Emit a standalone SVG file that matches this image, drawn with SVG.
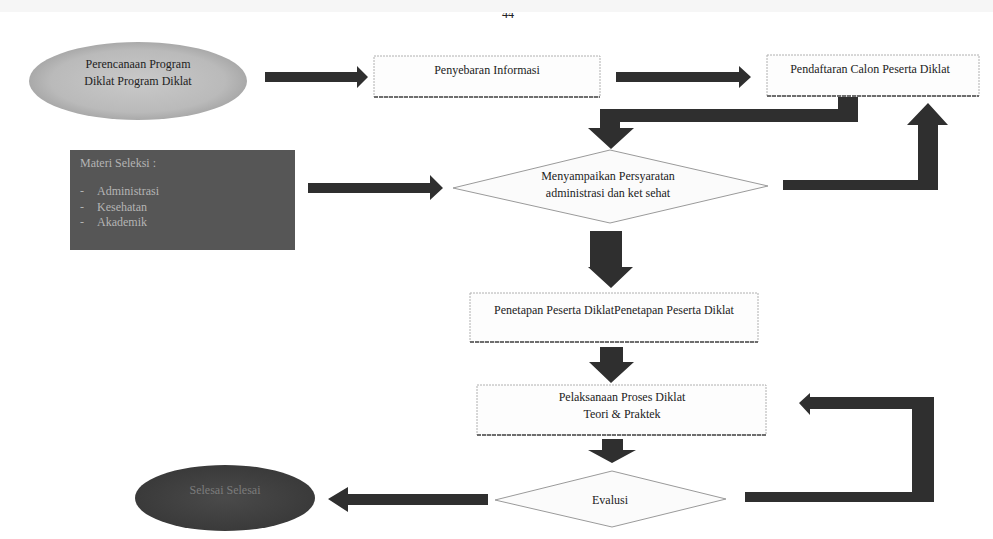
<svg xmlns="http://www.w3.org/2000/svg" width="993" height="539" viewBox="0 0 993 539">
<defs>
<style>
text{font-family:"Liberation Serif","Times New Roman",serif;font-size:12px;fill:#222222}
.box{fill:#fdfdfd;stroke:#b0b0b0;stroke-width:1;stroke-dasharray:2 1}
.shadow{stroke:#6e6e6e;stroke-width:2;stroke-dasharray:4 1}
.dia{fill:#fbfbfb;stroke:#9a9a9a;stroke-width:1}
.arr{fill:#2f2f2f}
.light{fill:#b4b4b4}
.dim{fill:#7c7c7c}
</style>
<radialGradient id="g1" cx="50%" cy="50%" r="50%">
<stop offset="0" stop-color="#c9c9c9"/>
<stop offset="0.8" stop-color="#bababa"/>
<stop offset="1" stop-color="#a9a9a9"/>
</radialGradient>
<radialGradient id="g2" cx="50%" cy="50%" r="50%">
<stop offset="0" stop-color="#4a4a4a"/>
<stop offset="1" stop-color="#3a3a3a"/>
</radialGradient>
<clipPath id="topclip"><rect x="0" y="13" width="993" height="20"/></clipPath>
</defs>
<rect width="993" height="539" fill="#ffffff"/>
<rect width="993" height="12" fill="#f6f6f6"/>
<text x="508" y="18" text-anchor="middle" font-size="14" clip-path="url(#topclip)">44</text>

<g id="n-perencanaan">
<ellipse cx="138" cy="81" rx="109" ry="39" fill="url(#g1)"/>
<text x="138" y="68" text-anchor="middle">Perencanaan Program</text>
<text x="138" y="85" text-anchor="middle">Diklat Program Diklat</text>
</g>

<g id="n-penyebaran">
<rect class="box" x="374" y="56" width="226" height="41"/>
<line class="shadow" x1="374" y1="97" x2="600" y2="97"/>
<text x="487" y="74" text-anchor="middle">Penyebaran Informasi</text>
</g>

<g id="n-pendaftaran">
<rect class="box" x="767" y="55" width="212" height="41"/>
<line class="shadow" x1="767" y1="96" x2="979" y2="96"/>
<text x="870" y="73" text-anchor="middle">Pendaftaran Calon Peserta Diklat</text>
</g>

<g id="n-materi">
<rect x="70" y="150" width="225" height="100" fill="#565656"/>
<text class="light" x="80" y="167">Materi Seleksi :</text>
<text class="light" x="80" y="195">-</text>
<text class="light" x="97" y="195">Administrasi</text>
<text class="light" x="80" y="211">-</text>
<text class="light" x="97" y="211">Kesehatan</text>
<text class="light" x="80" y="226">-</text>
<text class="light" x="97" y="226">Akademik</text>
</g>

<g id="n-menyampaikan">
<polygon class="dia" points="453,188 610,150 768,186 610,223"/>
<text x="608" y="180" text-anchor="middle">Menyampaikan Persyaratan</text>
<text x="608" y="197" text-anchor="middle">administrasi dan ket sehat</text>
</g>

<g id="n-penetapan">
<rect class="box" x="470" y="293" width="288" height="49"/>
<line class="shadow" x1="470" y1="342" x2="758" y2="342"/>
<text x="614" y="314" text-anchor="middle">Penetapan Peserta DiklatPenetapan Peserta Diklat</text>
</g>

<g id="n-pelaksanaan">
<rect class="box" x="477" y="385" width="289" height="50"/>
<line class="shadow" x1="477" y1="435" x2="766" y2="435"/>
<text x="622" y="401" text-anchor="middle">Pelaksanaan Proses Diklat</text>
<text x="622" y="418" text-anchor="middle">Teori &amp; Praktek</text>
</g>

<g id="n-evalusi">
<polygon class="dia" points="495,500 612,471 726,499 612,527"/>
<text x="610" y="504" text-anchor="middle">Evalusi</text>
</g>

<g id="n-selesai">
<ellipse cx="225" cy="498" rx="90" ry="33" fill="url(#g2)"/>
<text class="dim" x="225" y="494" text-anchor="middle">Selesai Selesai</text>
</g>

<g id="connectors">
<polygon class="arr" points="265,72 357,72 357,66 368,77 357,88 357,82 265,82"/>
<polygon class="arr" points="616,72 739,72 739,66 751,77 739,88 739,82 616,82"/>
<polygon class="arr" points="858,97 858,122 620,122 620,128 634,128 611,149 588,128 600,128 600,109 838,109 838,97"/>
<polygon class="arr" points="308,183 430,183 430,175 443,188 430,200 430,193 308,193"/>
<polygon class="arr" points="783,180 918,180 918,125 907,125 928,103 948,125 938,125 938,190 783,190"/>
<polygon class="arr" points="590,231 622,231 622,267 633,267 611,288 588,267 590,267"/>
<polygon class="arr" points="600,347 623,347 623,362 634,362 611,383 589,362 600,362"/>
<polygon class="arr" points="602,439 623,439 623,450 636,450 612,463 588,450 602,450"/>
<polygon class="arr" points="488,494 348,494 348,487 328,499 348,512 348,505 488,505"/>
<polygon class="arr" points="745,492 912,492 912,409 810,409 810,415 799,403 810,393 810,397 934,397 934,502 745,502"/>
</g>
</svg>
